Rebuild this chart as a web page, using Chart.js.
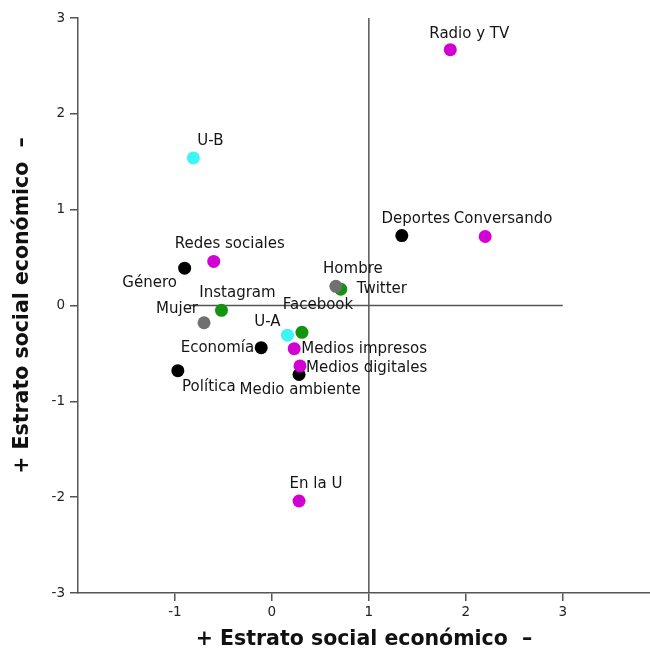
<!DOCTYPE html>
<html><head><meta charset="utf-8">
<script src="https://cdn.jsdelivr.net/npm/chart.js@4.4.1/dist/chart.umd.min.js"></script>
<style>html,body{margin:0;padding:0;background:#fff;overflow:hidden;} canvas{display:block;}</style>
</head><body>
<canvas id="c" width="650" height="653"></canvas>
<script>
const names = ['Radio y TV','U-B','Deportes','Conversando','Redes sociales','Género','Hombre','Twitter','Instagram','Facebook','Mujer','U-A','Economía','Medios impresos','Medios digitales','Medio ambiente','Política','En la U'];
const xValues = [1.84,-0.81,1.34,2.20,-0.60,-0.90,0.66,0.71,-0.52,0.31,-0.70,0.16,-0.11,0.23,0.29,0.28,-0.97,0.28];
const yValues = [2.67,1.54,0.73,0.72,0.46,0.39,0.20,0.17,-0.05,-0.28,-0.18,-0.31,-0.44,-0.45,-0.63,-0.72,-0.68,-2.04];
const groups = ['medio','universidad','tema','medio','medio','tema','sexo','red','red','red','sexo','universidad','tema','medio','medio','tema','tema','medio'];
const groupOrder = ['medio','sexo','universidad','red','tema'];
const xTicks = [-1,0,1,2,3];
const yTicks = [-3,-2,-1,0,1,2,3];
const axisTitle = '+ Estrato social económico  –';
const refV = {x:1, y0:-3, y1:3};
const refH = {y:0, x0:-0.85, x1:3};

const groupColors = {medio:'#d200d2', sexo:'#707070', universidad:'#3cf5f5', red:'#129412', tema:'#000000'};
// label placement (pixel offsets from the point, text alignment)
const labelPlace = {
  'Radio y TV':[19,-16,'center'], 'U-B':[17,-17,'center'], 'Deportes':[14,-16,'center'],
  'Conversando':[18,-17,'center'], 'Redes sociales':[16,-17,'center'], 'Género':[-35,15,'center'],
  'Hombre':[17,-17,'center'], 'Twitter':[16,0,'left'], 'Instagram':[16,-17,'center'],
  'Facebook':[16,-27,'center'], 'Mujer':[-6,-14,'right'], 'U-A':[-20,-13,'center'],
  'Economía':[-7,0,'right'], 'Medios impresos':[7,0,'left'], 'Medios digitales':[6,2,'left'],
  'Medio ambiente':[1,16,'center'], 'Política':[31,16,'center'], 'En la U':[17,-17,'center']
};

const datasets = groupOrder.map(g => ({
  label: g,
  data: names.map((n,i)=>({x:xValues[i], y:yValues[i], name:n, g:groups[i]})).filter(p=>p.g===g),
  backgroundColor: groupColors[g],
  pointRadius: 6.5,
  pointBorderWidth: 0,
  pointHoverRadius: 6.5
}));

const refLines = {
  id:'refLines',
  beforeDatasetsDraw(chart){
    const {ctx, scales:{x,y}} = chart;
    ctx.save();
    ctx.strokeStyle = '#555'; ctx.lineWidth = 1.5;
    ctx.beginPath();
    ctx.moveTo(x.getPixelForValue(refV.x), y.getPixelForValue(refV.y0));
    ctx.lineTo(x.getPixelForValue(refV.x), y.getPixelForValue(refV.y1));
    ctx.moveTo(x.getPixelForValue(refH.x0), y.getPixelForValue(refH.y));
    ctx.lineTo(x.getPixelForValue(refH.x1), y.getPixelForValue(refH.y));
    ctx.stroke();
    ctx.restore();
  }
};

const pointLabels = {
  id:'pointLabels',
  afterDatasetsDraw(chart){
    const ctx = chart.ctx;
    ctx.save();
    ctx.font = '15px "DejaVu Sans"';
    ctx.fillStyle = '#151515';
    ctx.textBaseline = 'middle';
    chart.data.datasets.forEach((ds, di) => {
      const meta = chart.getDatasetMeta(di);
      ds.data.forEach((p, i) => {
        const el = meta.data[i];
        const pl = labelPlace[p.name] || [16,-17,'center'];
        ctx.textAlign = pl[2];
        ctx.fillText(p.name, el.x + pl[0], el.y + pl[1]);
      });
    });
    ctx.restore();
  }
};

const tickFmt = v => (v < 0 ? '-' + Math.abs(v) : String(v));

new Chart(document.getElementById('c'), {
  type:'scatter',
  data:{datasets},
  plugins:[refLines, pointLabels],
  options:{
    responsive:false,
    animation:false,
    layout:{autoPadding:false, padding:{top:18,right:0,left:0,bottom:0}},
    plugins:{legend:{display:false}, tooltip:{enabled:false}},
    scales:{
      x:{
        type:'linear', min:-2, max:3.9,
        afterBuildTicks: s => { s.ticks = xTicks.map(v=>({value:v})); },
        afterFit: s => { s.height = 60; s.paddingLeft = 0; s.paddingRight = 0; },
        grid:{drawOnChartArea:false, drawTicks:true, tickLength:8, color:'#555', lineWidth:1.5},
        border:{display:true, color:'#555', width:1.5},
        ticks:{font:{family:'DejaVu Sans', size:13.5}, color:'#222', padding:3, callback:tickFmt, maxRotation:0},
        title:{display:true, text:axisTitle, font:{family:'DejaVu Sans', size:20.5, weight:'bold'}, color:'#111', padding:{top:0,bottom:1}}
      },
      y:{
        type:'linear', min:-3, max:3,
        afterBuildTicks: s => { s.ticks = yTicks.map(v=>({value:v})); },
        afterFit: s => { s.width = 78; },
        grid:{drawOnChartArea:false, drawTicks:true, tickLength:8, color:'#555', lineWidth:1.5},
        border:{display:true, color:'#555', width:1.5},
        ticks:{font:{family:'DejaVu Sans', size:13.5}, color:'#222', padding:5, callback:tickFmt},
        title:{display:true, text:axisTitle, font:{family:'DejaVu Sans', size:20.5, weight:'bold'}, color:'#111', padding:{top:10,bottom:0}}
      }
    }
  }
});
</script>
</body></html>
